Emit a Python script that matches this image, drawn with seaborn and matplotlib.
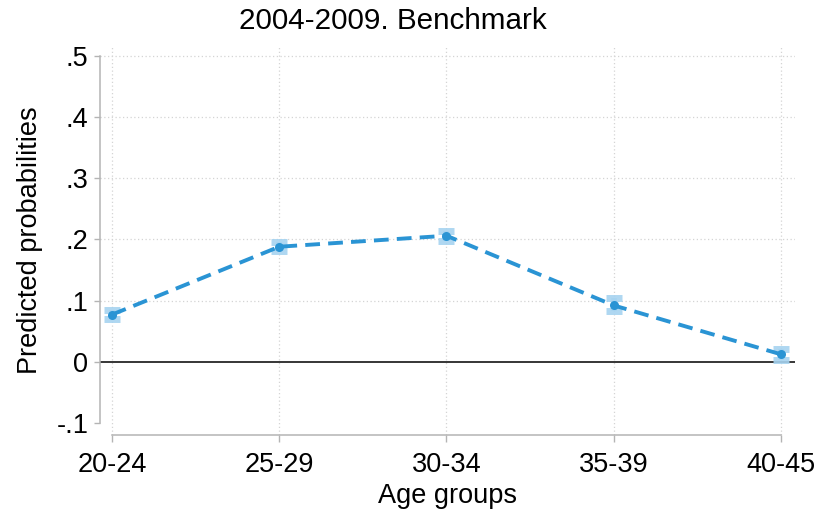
import matplotlib
matplotlib.use("Agg")
import matplotlib.pyplot as plt
import seaborn as sns
import pandas as pd

# Predicted probabilities by age group with 95% confidence bounds
age_groups = ["20-24", "25-29", "30-34", "35-39", "40-45"]
pred_prob = [0.077, 0.188, 0.206, 0.092, 0.012]
ci_low = [0.070, 0.181, 0.198, 0.083, 0.003]
ci_high = [0.085, 0.195, 0.214, 0.104, 0.021]
y_ticks = [-0.1, 0.0, 0.1, 0.2, 0.3, 0.4, 0.5]
y_tick_labels = ["-.1", "0", ".1", ".2", ".3", ".4", ".5"]

sns.set_theme(style="white")
plt.rcParams["font.family"] = ["Liberation Sans", "DejaVu Sans"]
plt.rcParams["text.color"] = "black"
plt.rcParams["axes.labelcolor"] = "black"
plt.rcParams["xtick.labelcolor"] = "black"
plt.rcParams["ytick.labelcolor"] = "black"

df = pd.DataFrame({"pos": range(len(age_groups)), "group": age_groups,
                   "prob": pred_prob, "lo": ci_low, "hi": ci_high})

line_color = "#2a94d4"
ci_color = "#a6d3f0"
grid_color = "#d4d4d4"
spine_color = "#b4b4b4"

fig = plt.figure(figsize=(8.17, 5.09), dpi=100)
ax = fig.add_axes([100 / 817, 1 - 435 / 509, 695 / 817, 390 / 509])

ax.set_xlim(-0.072, 4.084)
ax.set_ylim(-0.12, 0.518)

# dotted reference grid
for x in df["pos"]:
    ax.axvline(x, color=grid_color, lw=0.9, ls=(0, (1, 2)), zorder=0)
for y in y_ticks[2:]:
    ax.axhline(y, color=grid_color, lw=0.9, ls=(0, (1, 2)), zorder=0)
ax.axhline(0, color="black", lw=1.1, zorder=1)

# confidence intervals
ax.errorbar(df["pos"], df["prob"],
            yerr=[df["prob"] - df["lo"], df["hi"] - df["prob"]],
            fmt="none", ecolor=ci_color, elinewidth=4, capsize=6,
            capthick=5, alpha=0.9, zorder=2)

sns.lineplot(data=df, x="pos", y="prob", ax=ax, color=line_color,
             linewidth=2.8, marker="o", markersize=6.5, markeredgewidth=0,
             zorder=3)
ax.lines[-1].set_dashes((3.8, 2.1))

ax.set_xticks(df["pos"])
ax.set_xticklabels(age_groups)
ax.set_yticks(y_ticks)
ax.set_yticklabels(y_tick_labels)
ax.tick_params(axis="y", which="major", direction="out", length=4.3, width=1,
               color=spine_color, pad=4, labelsize=19.5, left=True,
               labelcolor="black")
ax.tick_params(axis="x", which="major", direction="out", length=5, width=1,
               color=spine_color, pad=7, labelsize=19.5, bottom=True,
               labelcolor="black")

for side in ["top", "right"]:
    ax.spines[side].set_visible(False)
for side in ["left", "bottom"]:
    ax.spines[side].set_color(spine_color)
    ax.spines[side].set_linewidth(1.1)
ax.spines["left"].set_bounds(-0.1, 0.5)
ax.spines["bottom"].set_bounds(0, 4)

ax.set_xlabel("Age groups", fontsize=19.5, labelpad=4, color="black")
ax.set_ylabel("")
fig.text(30 / 817, 1 - 240 / 509, "Predicted probabilities", rotation=90,
         ha="center", va="center", fontsize=19.5, color="black")
fig.text(393 / 817, 1 - 21 / 509, "2004-2009. Benchmark",
         ha="center", va="center", fontsize=21.3, color="black")

fig.savefig("out.png", dpi=100, facecolor="white")
